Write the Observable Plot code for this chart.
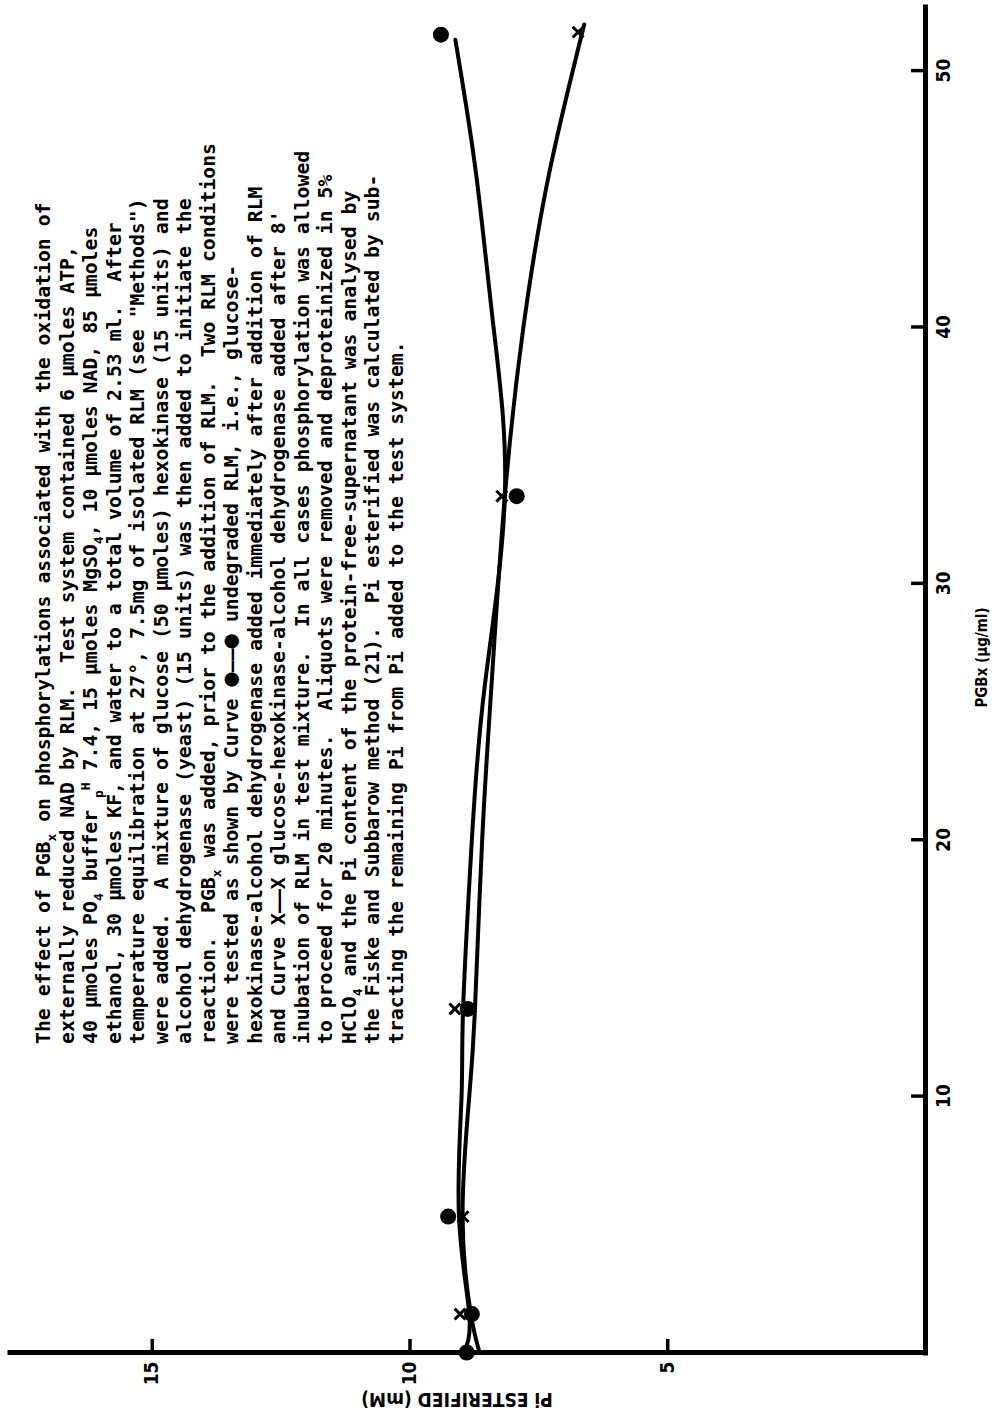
<!DOCTYPE html>
<html>
<head>
<meta charset="utf-8">
<script src="https://cdn.jsdelivr.net/npm/d3@7"></script>
<script src="https://cdn.jsdelivr.net/npm/@observablehq/plot@0.6"></script>
<style>
  html, body { margin: 0; padding: 0; overflow: hidden; background: #fff; width: 998px; height: 1416px; }
  #rot { position: absolute; left: 0; top: 0; width: 1416px; height: 998px;
         transform-origin: 0 0; transform: translate(0, 1416px) rotate(-90deg); background: #fff; }
  #caption { position: absolute; left: 372px; top: 32px; font-family: "DejaVu Sans Mono", monospace;
             font-weight: bold; font-size: 19.8px; color: #000; }
  #caption div { height: 23.5px; line-height: 23.5px; white-space: pre; }
  #caption sub { font-size: 13px; vertical-align: -6px; line-height: 0; }
  #caption sup { font-size: 13px; vertical-align: 7px; line-height: 0; }
  #caption .big { font-size: 24px; line-height: 0; }
</style>
</head>
<body>
<div id="rot">
  <div id="chart"></div>
  <div id="caption"></div>
</div>
<script>
// Axis ticks
const pgbTicks = [10, 20, 30, 40, 50];
const piTicks = [5, 10, 15];

// Curve ● (undegraded RLM): measured points
const dotPGB = [0, 1.5, 5.3, 13.4, 33.4, 51.4];
const dotPi  = [8.9, 8.8, 9.26, 8.88, 7.93, 9.40];
// Curve × (8' incubation): measured points
const crossPGB = [1.5, 5.3, 13.4, 33.4, 51.5];
const crossPi  = [9.03, 8.97, 9.13, 8.22, 6.74];

// Hand-drawn smooth curves
const dotFitPGB = [0, 1.5, 5.3, 10, 13.4, 20, 26, 33.4, 40, 46, 51.2];
const dotFitPi  = [8.95, 8.85, 9.05, 9.0, 8.97, 8.8, 8.55, 8.16, 8.38, 8.72, 9.12];
const crossFitPGB = [0, 1.5, 5.3, 10, 13.4, 20, 26, 33.4, 40, 46, 51.8];
const crossFitPi  = [8.65, 8.82, 8.98, 8.85, 8.74, 8.6, 8.42, 8.16, 7.8, 7.3, 6.62];

const xLabel = "PGBx (\u03bcg/ml)";
const yLabel = "Pi ESTERIFIED (mM)";

const captionLines = [
  "The effect of PGB<sub>x</sub> on phosphorylations associated with the oxidation of",
  "externally reduced NAD by RLM.  Test system contained 6 \u03bcmoles ATP,",
  "40 \u03bcmoles PO<sub>4</sub> buffer <sub>p</sub><sup>H</sup> 7.4, 15 \u03bcmoles MgSO<sub>4</sub>, 10 \u03bcmoles NAD, 85 \u03bcmoles",
  "ethanol, 30 \u03bcmoles KF, and water to a total volume of 2.53 ml.  After",
  "temperature equilibration at 27\u00b0, 7.5mg of isolated RLM (see \"Methods\")",
  "were added.  A mixture of glucose (50 \u03bcmoles) hexokinase (15 units) and",
  "alcohol dehydrogenase (yeast) (15 units) was then added to initiate the",
  "reaction.  PGB<sub>x</sub> was added, prior to the addition of RLM.  Two RLM conditions",
  "were tested as shown by Curve <span class=\"big\">\u25cf</span>\u2014\u2014<span class=\"big\">\u25cf</span> undegraded RLM, i.e., glucose-",
  "hexokinase-alcohol dehydrogenase added immediately after addition of RLM",
  "and Curve X\u2014\u2014X glucose-hexokinase-alcohol dehydrogenase added after 8'",
  "inubation of RLM in test mixture.  In all cases phosphorylation was allowed",
  "to proceed for 20 minutes.  Aliquots were removed and deproteinized in 5%",
  "HClO<sub>4</sub> and the Pi content of the protein-free-supernatant was analysed by",
  "the Fiske and Subbarow method (21).  Pi esterified was calculated by sub-",
  "tracting the remaining Pi from Pi added to the test system."
];

const dotPts = dotPGB.map((x, i) => ({x, y: dotPi[i]}));
const crossPts = crossPGB.map((x, i) => ({x, y: crossPi[i]}));
const dotFit = dotFitPGB.map((x, i) => ({x, y: dotFitPi[i]}));
const crossFit = crossFitPGB.map((x, i) => ({x, y: crossFitPi[i]}));

// tick mark length expressed in each scale's units (~14px)
const tickLenPi = 0.27, tickLenPGB = 0.55;
const labelFont = "'DejaVu Sans Condensed', 'DejaVu Sans', sans-serif";

const chart = Plot.plot({
  width: 1416,
  height: 998,
  marginLeft: 63,
  marginRight: 7,
  marginTop: 10,
  marginBottom: 73,
  style: { fontFamily: labelFont, fontWeight: "bold", fontSize: "19px", background: "#fff", color: "#000" },
  x: { domain: [0, 52.5] },
  y: { domain: [0, 17.75] },
  marks: [
    Plot.axisX(pgbTicks, { tickSize: 0, tickPadding: 11, label: null, tickFormat: d => String(d), fontSize: 19, fontWeight: "bold" }),
    Plot.axisY(piTicks, { tickSize: 0, tickPadding: 9, label: null, tickFormat: d => String(d), fontSize: 19, fontWeight: "bold" }),
    Plot.ruleX([0], { stroke: "#000", strokeWidth: 5, strokeLinecap: "square" }),
    Plot.ruleY([0], { stroke: "#000", strokeWidth: 5, strokeLinecap: "square" }),
    // inward tick marks
    Plot.ruleX(pgbTicks, { x: d => d, y1: d => 0, y2: d => tickLenPi, stroke: "#000", strokeWidth: 3.5 }),
    Plot.ruleY(piTicks, { y: d => d, x1: d => 0, x2: d => tickLenPGB, stroke: "#000", strokeWidth: 3.5 }),
    Plot.line(dotFit, { x: "x", y: "y", curve: "natural", stroke: "#000", strokeWidth: 4 }),
    Plot.line(crossFit, { x: "x", y: "y", curve: "natural", stroke: "#000", strokeWidth: 4 }),
    Plot.dot(dotPts, { x: "x", y: "y", r: 8, fill: "#000", stroke: "none" }),
    Plot.dot(crossPts, { x: "x", y: "y", symbol: "times", r: 5, stroke: "#000", strokeWidth: 3 }),
    Plot.text([xLabel], { text: d => d, frameAnchor: "bottom", textAnchor: "middle", lineAnchor: "middle", dx: 22, dy: 57, fontSize: 15, fontWeight: "bold" }),
    Plot.text([yLabel], { text: d => d, frameAnchor: "left", textAnchor: "middle", lineAnchor: "middle", rotate: -90, dx: -47, dy: -11, fontSize: 19, fontWeight: "bold" })
  ]
});
document.getElementById("chart").appendChild(chart);

const cap = document.getElementById("caption");
for (const line of captionLines) {
  const div = document.createElement("div");
  div.innerHTML = line;
  cap.appendChild(div);
}
</script>
</body>
</html>
